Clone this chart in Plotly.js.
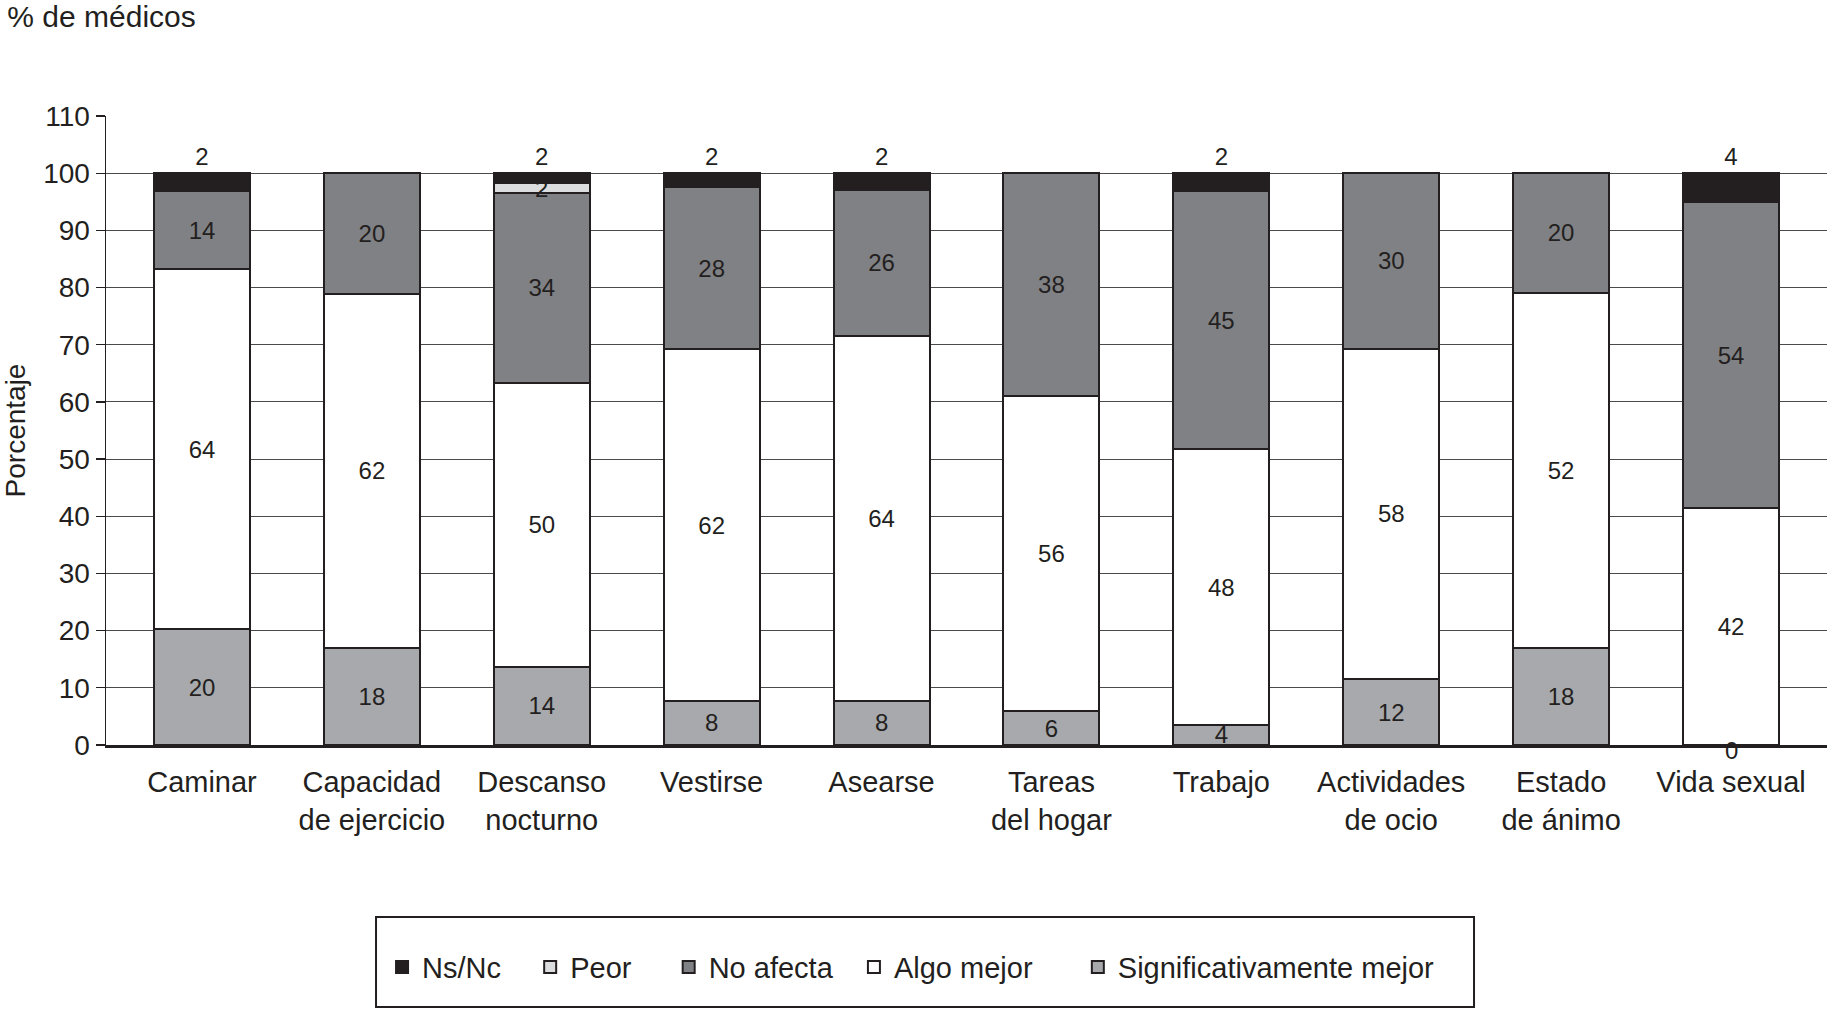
<!DOCTYPE html>
<html>
<head>
<meta charset="utf-8">
<script src="https://cdn.plot.ly/plotly-3.0.1.min.js"></script>
<style>
  html, body { margin: 0; padding: 0; background: #ffffff; }
  #chart { width: 1836px; height: 1009px; }
</style>
</head>
<body>
<div id="chart"></div>
<script>
// Categories (x axis)
const categories = [
  'Caminar', 'Capacidad<br>de ejercicio', 'Descanso<br>nocturno', 'Vestirse', 'Asearse',
  'Tareas<br>del hogar', 'Trabajo', 'Actividades<br>de ocio', 'Estado<br>de ánimo', 'Vida sexual'
];

// Segment heights as drawn in the reference (% of physicians)
const sigMejor  = [20.2, 17.0, 13.7, 7.7, 7.7, 5.9, 3.5, 11.5, 17.0, 0];
const algoMejor = [63.1, 61.9, 49.6, 61.5, 63.8, 55.2, 48.2, 57.8, 62.1, 41.4];
const noAfecta  = [13.5, 21.1, 33.3, 28.4, 25.6, 38.9, 45.2, 30.7, 20.9, 53.5];
const peor      = [0, 0, 1.6, 0, 0, 0, 0, 0, 0, 0];
const nsnc      = [3.2, 0, 1.8, 2.4, 2.9, 0, 3.1, 0, 0, 5.1];

// Printed value labels
const sigLabels  = ['20', '18', '14', '8', '8', '6', '4', '12', '18', '0'];
const algoLabels = ['64', '62', '50', '62', '64', '56', '48', '58', '52', '42'];
const noAfLabels = ['14', '20', '34', '28', '26', '38', '45', '30', '20', '54'];
const peorLabels = ['', '', '2', '', '', '', '', '', '', ''];
const nsLabels   = ['2', '', '2', '2', '2', '', '2', '', '', '4'];

const seriesNames = ['Significativamente mejor', 'Algo mejor', 'No afecta', 'Peor', 'Ns/Nc'];
const seriesColors = ['#a7a9ac', '#ffffff', '#808184', '#dcdddf', '#231f20'];

const FONT = '"Liberation Sans", Arial, Helvetica, sans-serif';
const INK = '#231f20';
const NB = '\u00a0';
const VAL_SIZE = 24;

function barTrace(name, y, labels, color, pos, pad) {
  return {
    type: 'bar',
    name: name + NB.repeat(pad),
    x: categories,
    y: y,
    text: labels,
    textposition: pos,
    textangle: 0,
    insidetextanchor: 'middle',
    constraintext: 'none',
    cliponaxis: false,
    textfont: { family: FONT, size: VAL_SIZE, color: INK },
    insidetextfont: { family: FONT, size: VAL_SIZE, color: INK },
    outsidetextfont: { family: FONT, size: VAL_SIZE, color: INK },
    marker: { color: color, line: { color: INK, width: 2 } },
    width: 0.565,
    hoverinfo: 'x+y+name'
  };
}

const data = [
  barTrace(seriesNames[0], sigMejor,  sigLabels,  seriesColors[0], 'inside', 0),
  barTrace(seriesNames[1], algoMejor, algoLabels, seriesColors[1], 'inside', 5),
  barTrace(seriesNames[2], noAfecta,  noAfLabels, seriesColors[2], 'inside', 2),
  barTrace(seriesNames[3], peor,      peorLabels, seriesColors[3], 'inside', 4),
  barTrace(seriesNames[4], nsnc,      nsLabels,   seriesColors[4], 'outside', 3)
];

// Labels of zero-height segments (Plotly does not draw text on empty bars)
const zeroLabels = [];
sigMejor.forEach(function (v, i) {
  if (v === 0 && sigLabels[i] !== '') {
    zeroLabels.push({
      x: categories[i], y: v, xref: 'x', yref: 'y',
      text: sigLabels[i], showarrow: false,
      font: { family: FONT, size: VAL_SIZE, color: INK },
      xanchor: 'center', yanchor: 'middle', yshift: -5
    });
  }
});

const layout = {
  width: 1836,
  height: 1009,
  paper_bgcolor: '#ffffff',
  plot_bgcolor: '#ffffff',
  font: { family: FONT, color: INK, size: 29 },
  barmode: 'stack',
  bargap: 0.435,
  margin: { l: 106, r: 9, t: 116, b: 264 },
  title: {
    text: '% de médicos',
    font: { family: FONT, size: 30, color: INK },
    x: 0.004, xref: 'container', xanchor: 'left',
    y: 0.984, yref: 'container', yanchor: 'middle'
  },
  xaxis: {
    type: 'category',
    range: [-0.565, 9.565],
    showline: true,
    linecolor: INK,
    linewidth: 2.5,
    showgrid: false,
    ticks: '',
    ticklabelstandoff: 10,
    tickfont: { family: FONT, size: 29, color: INK },
    fixedrange: true
  },
  yaxis: {
    range: [0, 110],
    dtick: 10,
    tick0: 0,
    showline: true,
    linecolor: INK,
    linewidth: 1.5,
    ticks: 'outside',
    ticklen: 9,
    tickwidth: 1.2,
    tickcolor: INK,
    showgrid: true,
    gridcolor: '#4a4a4a',
    gridwidth: 1,
    zeroline: false,
    tickfont: { family: FONT, size: 28, color: INK },
    title: {
      text: 'Porcentaje',
      font: { family: FONT, size: 28, color: INK },
      standoff: 12
    },
    fixedrange: true
  },
  showlegend: true,
  legend: {
    orientation: 'h',
    traceorder: 'reversed',
    x: 0.1604, xanchor: 'left',
    y: -0.353, yanchor: 'middle',
    font: { family: FONT, size: 29, color: INK },
    bgcolor: 'rgba(0,0,0,0)',
    borderwidth: 0
  },
  annotations: zeroLabels,
  shapes: [{
    type: 'rect', xref: 'paper', yref: 'paper',
    x0: 0.1569, x1: 0.7949, y0: -0.4165, y1: -0.2734,
    line: { color: INK, width: 2 }, fillcolor: 'rgba(0,0,0,0)'
  }]
};

Plotly.newPlot('chart', data, layout, { displayModeBar: false, responsive: false, staticPlot: true });
</script>
</body>
</html>
